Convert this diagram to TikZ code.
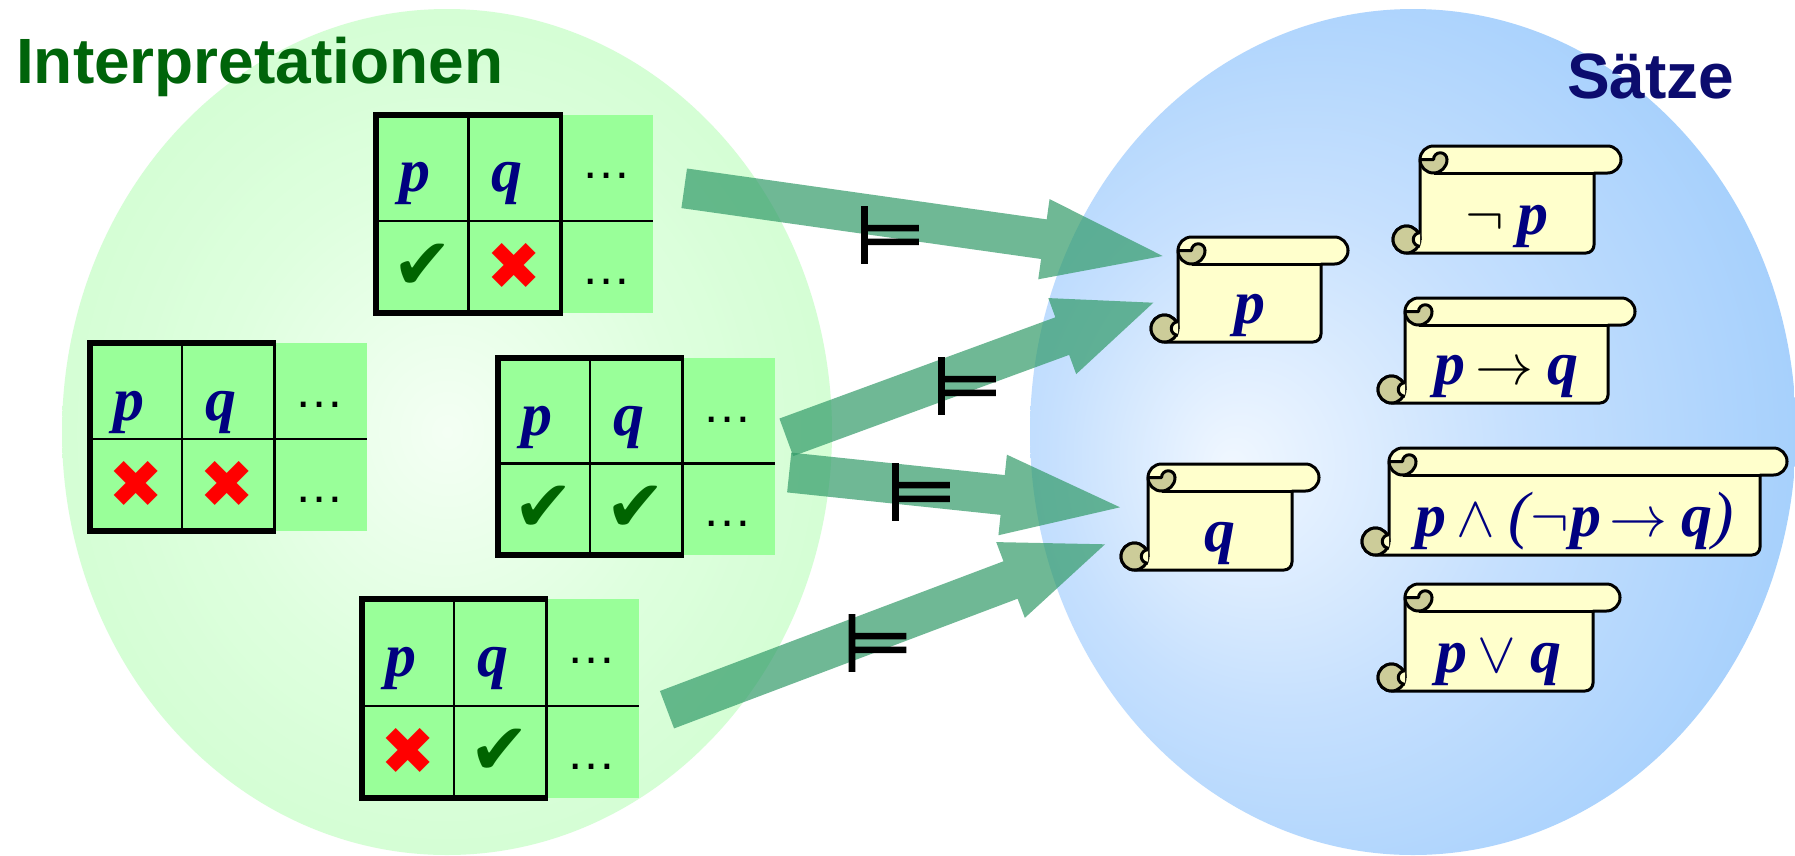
\RequirePackage{fix-cm}
\documentclass[tikz,border=0pt]{standalone}
\usepackage{fontspec}
\setmainfont{Liberation Serif}
\newfontfamily\titlefont{Liberation Sans}
\newfontfamily\symfont{DejaVu Sans}
\newfontface\modelsfont{DejaVu Sans}[FakeBold=2]
\usetikzlibrary{calc}

\definecolor{g0}{RGB}{244,255,244}
\definecolor{g1}{RGB}{222,255,222}
\definecolor{g2}{RGB}{206,253,206}
\definecolor{g3}{RGB}{198,252,198}
\definecolor{b0}{RGB}{240,247,255}
\definecolor{b1}{RGB}{198,224,254}
\definecolor{b2}{RGB}{162,206,252}
\definecolor{b3}{RGB}{150,199,250}
\definecolor{cellgreen}{RGB}{153,255,153}
\definecolor{varblue}{RGB}{0,0,128}
\definecolor{checkgreen}{RGB}{0,100,0}
\definecolor{crossred}{RGB}{255,0,0}
\definecolor{titlegreen}{RGB}{0,100,10}
\definecolor{titleblue}{RGB}{12,12,110}
\definecolor{scrollfill}{RGB}{255,255,204}
\definecolor{curlfill}{RGB}{204,204,153}
\definecolor{arrowgreen}{RGB}{50,155,105}

\pgfdeclareradialshading{greenglow}{\pgfpoint{0bp}{0bp}}{color(0bp)=(g0); color(15bp)=(g1); color(32bp)=(g2); color(50bp)=(g3)}
\pgfdeclareradialshading{blueglow}{\pgfpoint{-12bp}{-2bp}}{color(0bp)=(b0); color(15bp)=(b1); color(32bp)=(b2); color(50bp)=(b3)}

\newcommand\V[1]{{\fontsize{62}{62}\selectfont\bfseries\itshape #1}}
\newcommand\Sy[1]{{\fontsize{58}{58}\selectfont$#1$}}
\newcommand\Pa[1]{{\fontsize{64}{64}\selectfont\itshape #1}}

\tikzset{
  varstyle/.style={inner sep=0pt, anchor=base, text=varblue, font=\fontsize{62}{62}\selectfont\bfseries\itshape},
  markstyle/.style={inner sep=0pt, anchor=center, font=\symfont\fontsize{72}{72}\selectfont},
  dotstyle/.style={inner sep=0pt, anchor=base, text=black, font=\titlefont\fontsize{50}{50}\selectfont},
  thinline/.style={draw=black, line width=2.8pt},
  scrollline/.style={draw=black, line width=3pt, line join=round},
  formula/.style={inner sep=0pt, anchor=base, text=varblue},
  arrowfill/.style={fill=arrowgreen, fill opacity=0.7},
  modelsym/.style={inner sep=0pt, anchor=center, text=black, font=\modelsfont\fontsize{80}{80}\selectfont},
  titleA/.style={inner sep=0pt, anchor=base west, font=\titlefont\bfseries\fontsize{64}{64}\selectfont},
}

% #1 name, #2 x0, #3 y0, #4 middle row offset, #5 height, #6 mark p, #7 mark q
\newcommand\ttable[7]{%
  \begin{scope}[shift={(#2,#3)}]
    \fill[cellgreen] (0,0) rectangle (277,#5);
    \draw[thinline] (92.5,0) -- (92.5,#5);
    \draw[thinline] (0,#4) -- (277,#4);
    \draw[line width=3.5pt] (185,0) -- (185,#5);
    \draw[line width=6pt, line join=miter] (186.75,0) -- (0,0) -- (0,#5) -- (186.75,#5);
    \node[varstyle] (#1p) at (39,77) {p};
    \node[varstyle] (#1q) at (131,77) {q};
    #6
    #7
    \node[dotstyle] (#1d1) at (230,64) {…};
    \node[dotstyle] (#1d2) at (230,#4+63) {…};
  \end{scope}}
\newcommand\chk[3]{\node[markstyle, text=checkgreen] (#1) at (#2,#3) {✔};}
\newcommand\crs[3]{\node[markstyle, text=crossred, font=\symfont\fontsize{66}{66}\selectfont] (#1) at (#2,#3) {✖};}

% #1 name, #2 l, #3 t, #4 r, #5 b, #6 text
\newcommand\scroll[6]{%
  \begin{scope}[shift={(#2,#3)}]
    \pgfmathsetmacro\W{#4-#2}
    \pgfmathsetmacro\H{#5-#3}
    \filldraw[scrollline, fill=scrollfill] (27,13.5) arc[start angle=180, end angle=270, radius=13.5]
      -- (\W-13.5,0) arc[start angle=270, end angle=450, radius=13.5]
      -- (\W-27,27) -- (\W-27,\H-8) arc[start angle=0, end angle=90, radius=8]
      -- (13.5,\H) arc[start angle=90, end angle=360, radius=13.5] -- cycle;
    \draw[scrollline] (40.5,27) -- (\W-27,27);
    \filldraw[scrollline, fill=curlfill] (27,13.5) arc[start angle=180, end angle=0, radius=13.5]
      arc[start angle=0, end angle=-180, radius=6.75] -- cycle;
    \filldraw[scrollline, fill=curlfill] (13.5,\H-13.5) circle[radius=13.5];
    \filldraw[scrollline, fill=scrollfill] (27,\H-20.25) arc[start angle=270, end angle=90, radius=6.75];
    \node[formula] (#1) at ({\W/2},\H-19) {#6};
  \end{scope}}

% #1 tail, #2 tip, #3 head length
\newcommand\blockarrow[3]{%
  \coordinate (#1h) at ($(#2)!#3!(#1)$);
  \fill[arrowfill] ($(#1)!20pt!90:(#2)$) -- ($(#1h)!20pt!90:(#2)$) -- ($(#1h)!40.5pt!90:(#2)$)
    -- (#2) -- ($(#1h)!40.5pt!-90:(#2)$) -- ($(#1h)!20pt!-90:(#2)$) -- ($(#1)!20pt!-90:(#2)$) -- cycle;}

\begin{document}
\begin{tikzpicture}[x=1pt, y=-1pt]
\useasboundingbox (0,0) rectangle (1795,855);
\fill[white] (0,0) rectangle (1795,855);

% sets
\path[shading=greenglow] (447,432) ellipse [x radius=385, y radius=423];
\path[shading=blueglow] (1413,432) ellipse [x radius=383, y radius=423];

% titles
\node[titleA, text=titlegreen] (tI) at (16,83) {Interpretationen};
\node[titleA, text=titleblue] (tS) at (1567,98) {Sätze};

% interpretations
\ttable{A}{376}{114.5}{106.5}{198.5}{\chk{Am1}{46.5}{152}}{\crs{Am2}{138}{152}}
\ttable{B}{89.5}{343}{96}{188}{\crs{Bm1}{46.5}{141}}{\crs{Bm2}{138}{141}}
\ttable{C}{497.5}{358}{105.5}{196.5}{\chk{Cm1}{46.5}{151}}{\chk{Cm2}{138}{151}}
\ttable{D}{361.5}{599}{107}{198.5}{\crs{Dm1}{46.5}{152.5}}{\chk{Dm2}{138}{152.5}}

% sentences
\scroll{sp}{1151}{237}{1348}{342}{\V{p}}
\scroll{sq}{1121}{464}{1319}{570}{\V{q}}
\scroll{snp}{1393}{146}{1621}{253}{\textcolor{black}{\Sy{\neg}}\hspace{14pt}\V{p}}
\scroll{simp}{1378}{298}{1635}{403}{\V{p}\hspace{10pt}\textcolor{black}{\Sy{\to}}\hspace{14pt}\V{q}}
\scroll{sand}{1362}{448}{1787}{555}{\V{p}\hspace{10pt}\Sy{\wedge}\hspace{14pt}\Pa{(}\Sy{\neg}\hspace{2pt}\V{p}\hspace{8pt}\Sy{\to}\hspace{14pt}\V{q}\Pa{)}}
\scroll{sor}{1378}{584}{1620}{691}{\V{p}\hspace{10pt}\Sy{\vee}\hspace{14pt}\V{q}}

% connectors
\coordinate (a1s) at (684.2,188.3);  \coordinate (a1e) at (1162.7,256);
\coordinate (a2s) at (786.3,437.3);  \coordinate (a2e) at (1153.3,302.7);
\coordinate (a3s) at (789.2,472.5);  \coordinate (a3e) at (1120,507.3);
\coordinate (a4s) at (667,709.7);    \coordinate (a4e) at (1105,544.3);
\blockarrow{a1s}{a1e}{120pt}
\blockarrow{a2s}{a2e}{97pt}
\blockarrow{a3s}{a3e}{118pt}
\blockarrow{a4s}{a4e}{101pt}

\node[modelsym] (m1) at (890,235) {⊨};
\node[modelsym] (m2) at (967,386) {⊨};
\node[modelsym] (m3) at (921,492) {⊨};
\node[modelsym] (m4) at (877.5,643) {⊨};
\end{tikzpicture}
\end{document}
